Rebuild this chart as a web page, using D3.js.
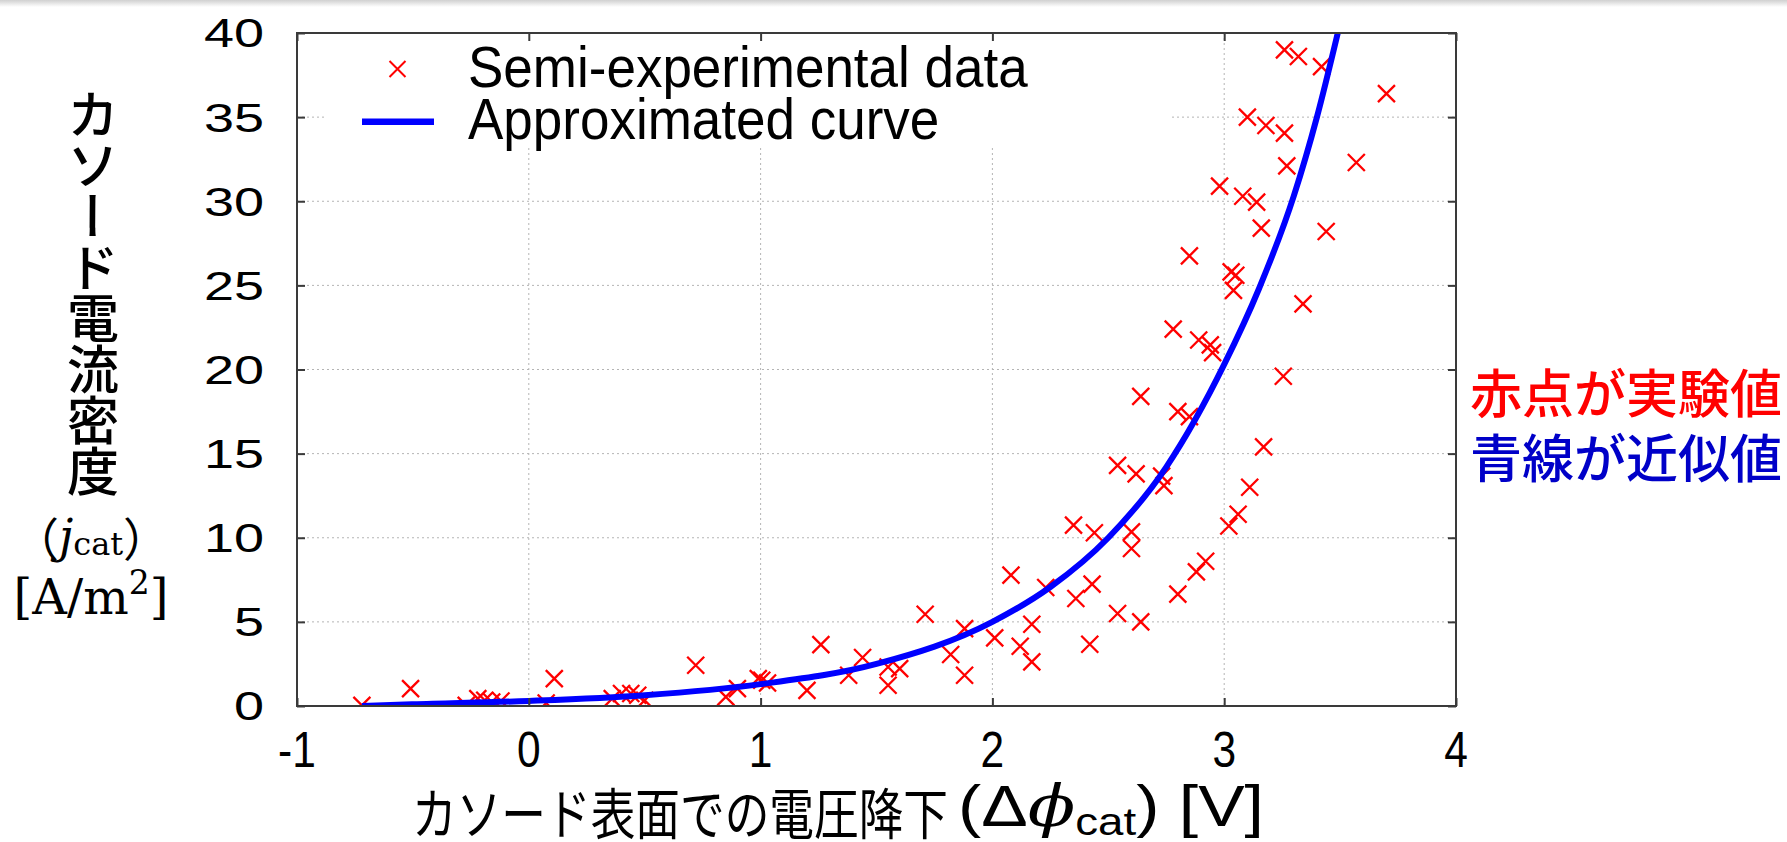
<!DOCTYPE html>
<html lang="ja">
<head>
<meta charset="UTF-8">
<title>カソード電流密度</title>
<script src="https://cdn.jsdelivr.net/npm/d3@7"></script>
<style>
  body { margin: 0; background: #fff; }
  svg { display: block; }
  .sans { font-family: "Liberation Sans", Arial, sans-serif; }
  .jp { font-family: "Noto Sans CJK JP", sans-serif; }
  .serif { font-family: "DejaVu Serif", "Liberation Serif", serif; }
</style>
</head>
<body>
<svg id="chart" width="1787" height="842"></svg>
<script>
const deltaPhi = [
  -0.72, -0.51, -0.27, -0.22, -0.19, -0.16, -0.12, 0.075, 0.11, 0.36,
  0.40, 0.44, 0.47, 0.50, 0.72, 0.85, 0.90, 0.99, 1.005, 1.03,
  1.20, 1.26, 1.38, 1.44, 1.55, 1.55, 1.60, 1.71, 1.82, 1.88,
  1.88, 2.01, 2.08, 2.12, 2.17, 2.17, 2.23, 2.36, 2.35, 2.42,
  2.43, 2.44, 2.54, 2.54, 2.60, 2.60, 2.64, 2.62, 2.64, 2.73,
  2.74, 2.80, 2.80, 2.85, 2.88, 2.92, 2.78, 2.85, 2.89, 2.94,
  2.95, 2.98, 3.02, 3.03, 3.05, 3.04, 3.06, 3.08, 3.10, 3.11,
  3.14, 3.16, 3.17, 3.18, 3.255, 3.26, 3.26, 3.27, 3.32, 3.34,
  3.42, 3.44, 3.57, 3.70
];
const jCat = [
  0.04, 1.03, 0.04, 0.44, 0.34, 0.24, 0.30, 0.18, 1.63, 0.44,
  0.74, 0.74, 0.64, 0.34, 2.42, 0.54, 1.03, 1.63, 1.53, 1.37,
  0.93, 3.65, 1.83, 2.88, 1.23, 2.32, 2.22, 5.45, 3.06, 1.83,
  4.6, 4.05, 7.78, 3.55, 4.86, 2.62, 7.04, 6.39, 10.75, 3.67,
  7.24, 10.3, 5.5, 14.3, 10.35, 9.36, 5.0, 13.8, 18.4, 13.66,
  13.1, 6.65, 17.5, 17.2, 7.97, 8.6, 22.4, 26.75, 21.75, 21.46,
  21.0, 30.9, 10.7, 25.8, 25.6, 24.7, 11.4, 30.3, 35.0, 13.0,
  29.95, 28.4, 15.4, 34.5, 19.6, 39.0, 34.05, 32.1, 38.6, 23.9,
  38.0, 28.2, 32.3, 36.4
];

// approximated curve
const curveX = [-0.72, -0.5, 0, 0.5, 1, 1.5, 2, 2.25, 2.5, 2.75, 3.0, 3.15, 3.3, 3.4, 3.49];
const curveY = [0.0, 0.1, 0.3, 0.64, 1.3, 2.5, 5.0, 7.07, 10.0, 14.2, 20.3, 24.8, 30.3, 35.0, 40];

const xTicks = [-1, 0, 1, 2, 3, 4];
const yTicks = [0, 5, 10, 15, 20, 25, 30, 35, 40];
const legendLabels = ["Semi-experimental data", "Approximated curve"];
const noteLines = ["赤点が実験値", "青線が近似値"];

const plot = { left: 297, top: 33, right: 1456, bottom: 706 };
const svg = d3.select("#chart");

const x = d3.scaleLinear().domain([-1, 4]).range([plot.left, plot.right]);
const y = d3.scaleLinear().domain([0, 40]).range([plot.bottom, plot.top]);

// faint grey strip along the top edge
const defs = svg.append("defs");
const grad = defs.append("linearGradient")
  .attr("id", "topfade").attr("x1", 0).attr("y1", 0).attr("x2", 0).attr("y2", 1);
grad.append("stop").attr("offset", "0%").attr("stop-color", "#d0d0d0");
grad.append("stop").attr("offset", "100%").attr("stop-color", "#ffffff");
svg.append("rect").attr("x", 0).attr("y", 0).attr("width", 1787).attr("height", 7)
  .attr("fill", "url(#topfade)");

defs.append("clipPath").attr("id", "plotclip")
  .append("rect")
  .attr("x", plot.left).attr("y", plot.top)
  .attr("width", plot.right - plot.left).attr("height", plot.bottom - plot.top);

// dotted grid
const grid = svg.append("g").attr("stroke", "#b4b4b4").attr("stroke-width", 1)
  .attr("stroke-dasharray", "2,3");
grid.selectAll(".gx").data(xTicks.slice(1, -1)).enter().append("line")
  .attr("x1", d => x(d)).attr("x2", d => x(d))
  .attr("y1", plot.top).attr("y2", plot.bottom);
grid.selectAll(".gy").data(yTicks.slice(1, -1)).enter().append("line")
  .attr("x1", plot.left).attr("x2", plot.right)
  .attr("y1", d => y(d)).attr("y2", d => y(d));

// legend background hides the grid
svg.append("rect").attr("x", 326).attr("y", plot.top + 1)
  .attr("width", 1171 - 326).attr("height", 147 - plot.top - 1).attr("fill", "#fff");

const crossPath = s => `M${-s},${-s}L${s},${s}M${-s},${s}L${s},${-s}`;

// data points
const pts = d3.zip(deltaPhi, jCat);
svg.append("g").attr("clip-path", "url(#plotclip)")
  .selectAll("path").data(pts).enter().append("path")
  .attr("transform", d => `translate(${x(d[0])},${y(d[1])})`)
  .attr("d", crossPath(8.5))
  .attr("fill", "none").attr("stroke", "#ff0000").attr("stroke-width", 2.3);

// approximated curve
const line = d3.line().x(d => x(d[0])).y(d => y(d[1])).curve(d3.curveMonotoneX);
svg.append("path").datum(d3.zip(curveX, curveY))
  .attr("clip-path", "url(#plotclip)")
  .attr("d", line)
  .attr("fill", "none").attr("stroke", "#0000ff").attr("stroke-width", 6);

// axes: inward ticks on all four sides
const axColor = "#3a3a3a";
const styleAxis = g => {
  g.select(".domain").remove();
  g.selectAll(".tick line").attr("stroke", axColor).attr("stroke-width", 2);
};
svg.append("g").attr("transform", `translate(0,${plot.bottom})`)
  .call(d3.axisBottom(x).tickValues(xTicks).tickSize(-8).tickFormat(""))
  .call(styleAxis);
svg.append("g").attr("transform", `translate(0,${plot.top})`)
  .call(d3.axisTop(x).tickValues(xTicks).tickSize(-8).tickFormat(""))
  .call(styleAxis);
svg.append("g").attr("transform", `translate(${plot.left},0)`)
  .call(d3.axisLeft(y).tickValues(yTicks).tickSize(-8).tickFormat(""))
  .call(styleAxis);
svg.append("g").attr("transform", `translate(${plot.right},0)`)
  .call(d3.axisRight(y).tickValues(yTicks).tickSize(-8).tickFormat(""))
  .call(styleAxis);

svg.append("rect")
  .attr("x", plot.left).attr("y", plot.top)
  .attr("width", plot.right - plot.left).attr("height", plot.bottom - plot.top)
  .attr("fill", "none").attr("stroke", axColor).attr("stroke-width", 2);

// tick labels
svg.append("g").attr("class", "sans").selectAll("text").data(xTicks).enter().append("text")
  .attr("transform", d => `translate(${x(d)},767) scale(0.85,1)`)
  .attr("text-anchor", "middle").attr("font-size", 50).attr("fill", "#000")
  .text(d => d);
svg.append("g").attr("class", "sans").selectAll("text").data(yTicks).enter().append("text")
  .attr("transform", d => `translate(264,${y(d)}) scale(1.35,1)`)
  .attr("dy", "0.36em")
  .attr("text-anchor", "end").attr("font-size", 40).attr("fill", "#000")
  .text(d => d);

// legend
svg.append("path").attr("transform", "translate(397.5,69)")
  .attr("d", crossPath(8)).attr("fill", "none")
  .attr("stroke", "#ff0000").attr("stroke-width", 2);
svg.append("line").attr("x1", 362).attr("x2", 434).attr("y1", 121.7).attr("y2", 121.7)
  .attr("stroke", "#0000ff").attr("stroke-width", 6.5);
svg.append("g").attr("class", "sans").selectAll("text").data(legendLabels).enter().append("text")
  .attr("transform", (d, i) => `translate(468,${i ? 139 : 87}) scale(0.93,1)`)
  .attr("font-size", 57).attr("fill", "#000")
  .text(d => d);

// y axis title
svg.append("text").attr("class", "jp")
  .attr("x", 93).attr("y", 88)
  .style("writing-mode", "vertical-rl")
  .attr("font-size", 52).attr("font-weight", 500).attr("letter-spacing", -1)
  .text("カソード電流密度");
const jt = svg.append("text").attr("x", 91).attr("y", 536)
  .attr("text-anchor", "middle").attr("dominant-baseline", "central").attr("font-size", 46);
jt.append("tspan").attr("class", "jp").text("（");
jt.append("tspan").attr("class", "serif").attr("font-style", "italic").text("j");
jt.append("tspan").attr("class", "serif").attr("font-size", 32).attr("dy", 8).text("cat");
jt.append("tspan").attr("class", "jp").attr("dy", -8).text("）");
const ut = svg.append("text").attr("class", "serif").attr("x", 91).attr("y", 597)
  .attr("text-anchor", "middle").attr("dominant-baseline", "central").attr("font-size", 48);
ut.append("tspan").text("[A/m");
ut.append("tspan").attr("font-size", 33).attr("dy", -15).text("2");
ut.append("tspan").attr("dy", 15).text("]");

// x axis title
svg.append("text").attr("class", "jp")
  .attr("x", 412).attr("y", 810).attr("dominant-baseline", "central")
  .attr("font-size", 55).attr("textLength", 536).attr("lengthAdjust", "spacingAndGlyphs")
  .text("カソード表面での電圧降下");
const xt = svg.append("text").attr("class", "sans")
  .attr("x", 958).attr("y", 826).attr("font-size", 58)
  .attr("textLength", 306).attr("lengthAdjust", "spacingAndGlyphs");
xt.append("tspan").text("(Δ");
xt.append("tspan").attr("class", "serif").attr("font-style", "italic").text("ϕ");
xt.append("tspan").attr("font-size", 38).attr("dy", 9).text("cat");
xt.append("tspan").attr("dy", -9).text(") [V]");

// side note
svg.append("g").attr("class", "jp").selectAll("text").data(noteLines).enter().append("text")
  .attr("x", 1470).attr("y", (d, i) => i ? 455 : 390.5)
  .attr("dominant-baseline", "central")
  .attr("font-size", 52).attr("font-weight", 500)
  .attr("fill", (d, i) => i ? "#0000c8" : "#ff0000")
  .text(d => d);
</script>
</body>
</html>
